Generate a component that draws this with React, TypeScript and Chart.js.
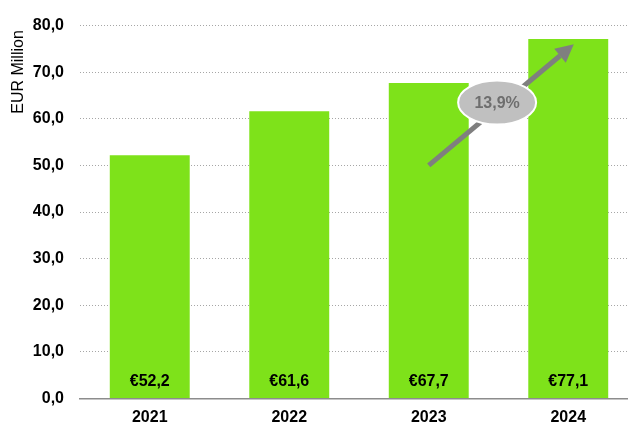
import React, { useEffect, useRef } from "react";
import { Chart, registerables } from "chart.js";

Chart.register(...registerables);

const categories = ["2021", "2022", "2023", "2024"];
const revenue = [52.2, 61.6, 67.7, 77.1];
const valueLabels = ["€52,2", "€61,6", "€67,7", "€77,1"];
const yTicks = [0, 10, 20, 30, 40, 50, 60, 70, 80];
const growthLabel = "13,9%";
// arrow annotation in data space: [category index, value]
const arrowStart = [2.0, 50];
const arrowEnd = [3.04, 76];
const bubbleAt = [2.49, 63.5];

const FONT = "'Liberation Sans', Arial, sans-serif";

const fmt = (v: number) => v.toFixed(1).replace(".", ",");

export default function App() {
  const ref = useRef<HTMLCanvasElement | null>(null);

  useEffect(() => {
    if (!ref.current) return;
    document.body.style.margin = "0";

    const overlay = {
      id: "overlay",
      afterDatasetsDraw(chart: any) {
        const ctx = chart.ctx;
        const x = chart.scales.x;
        const y = chart.scales.y;
        ctx.save();
        // value labels inside bars
        ctx.font = `bold 16px ${FONT}`;
        ctx.fillStyle = "#000";
        ctx.textAlign = "center";
        ctx.textBaseline = "middle";
        revenue.forEach((_, i) => {
          ctx.fillText(valueLabels[i], x.getPixelForValue(i), y.getPixelForValue(0) - 17);
        });
        // arrow
        const x0 = x.getPixelForValue(arrowStart[0]);
        const y0 = y.getPixelForValue(arrowStart[1]);
        const x1 = x.getPixelForValue(arrowEnd[0]);
        const y1 = y.getPixelForValue(arrowEnd[1]);
        const ang = Math.atan2(y1 - y0, x1 - x0);
        const headLen = 18;
        const headW = 9;
        const bx = x1 - headLen * Math.cos(ang);
        const by = y1 - headLen * Math.sin(ang);
        ctx.strokeStyle = "#7F7F7F";
        ctx.fillStyle = "#7F7F7F";
        ctx.lineWidth = 5;
        ctx.lineCap = "butt";
        ctx.beginPath();
        ctx.moveTo(x0, y0);
        ctx.lineTo(bx, by);
        ctx.stroke();
        ctx.beginPath();
        ctx.moveTo(x1, y1);
        ctx.lineTo(bx + headW * Math.sin(ang), by - headW * Math.cos(ang));
        ctx.lineTo(bx - headW * Math.sin(ang), by + headW * Math.cos(ang));
        ctx.closePath();
        ctx.fill();
        // bubble
        const ex = x.getPixelForValue(bubbleAt[0]);
        const ey = y.getPixelForValue(bubbleAt[1]);
        ctx.beginPath();
        ctx.ellipse(ex, ey, 39, 22, 0, 0, Math.PI * 2);
        ctx.fillStyle = "#C0C0C0";
        ctx.fill();
        ctx.lineWidth = 2;
        ctx.strokeStyle = "#FFFFFF";
        ctx.stroke();
        ctx.font = `bold 16px ${FONT}`;
        ctx.fillStyle = "#6E6E6E";
        ctx.fillText(growthLabel, ex, ey + 1);
        // axis title
        ctx.translate(18.5, 72);
        ctx.rotate(-Math.PI / 2);
        ctx.font = `16px ${FONT}`;
        ctx.fillStyle = "#000";
        ctx.fillText("EUR Million", 0, 0);
        ctx.restore();
      },
    };

    const chart = new Chart(ref.current, {
      type: "bar",
      data: {
        labels: categories,
        datasets: [
          {
            data: revenue,
            backgroundColor: "#7EE21A",
            borderWidth: 0,
            barPercentage: 0.573,
            categoryPercentage: 1,
          },
        ],
      },
      options: {
        responsive: false,
        animation: false,
        devicePixelRatio: 1,
        layout: { padding: { top: 24, right: 2, left: 0, bottom: 0 } },
        plugins: { legend: { display: false }, tooltip: { enabled: false } },
        scales: {
          x: {
            grid: { display: false, drawTicks: false },
            border: { display: true, color: "#8C8C8C", width: 1.5 },
            ticks: {
              padding: 10,
              color: "#000",
              font: { family: FONT, size: 16, weight: "bold" },
            },
            afterFit: (s: any) => {
              s.height = 24;
            },
          },
          y: {
            min: 0,
            max: 80,
            afterBuildTicks: (s: any) => {
              s.ticks = yTicks.map((v) => ({ value: v }));
            },
            grid: { color: "#A6A6A6", lineWidth: 1, drawTicks: false },
            border: { display: false, dash: [1, 2] },
            ticks: {
              padding: 16,
              color: "#000",
              font: { family: FONT, size: 16, weight: "bold" },
              callback: (v: any) => fmt(Number(v)),
            },
            afterFit: (s: any) => {
              s.width = 80;
            },
          },
        },
      },
      plugins: [overlay],
    } as any);

    return () => chart.destroy();
  }, []);

  return (
    <div
      style={{
        position: "fixed",
        left: 0,
        top: 0,
        width: 628,
        height: 424,
        overflow: "hidden",
        background: "#fff",
      }}
    >
      <canvas ref={ref} width={640} height={424} style={{ width: 640, height: 424, display: "block" }} />
    </div>
  );
}
